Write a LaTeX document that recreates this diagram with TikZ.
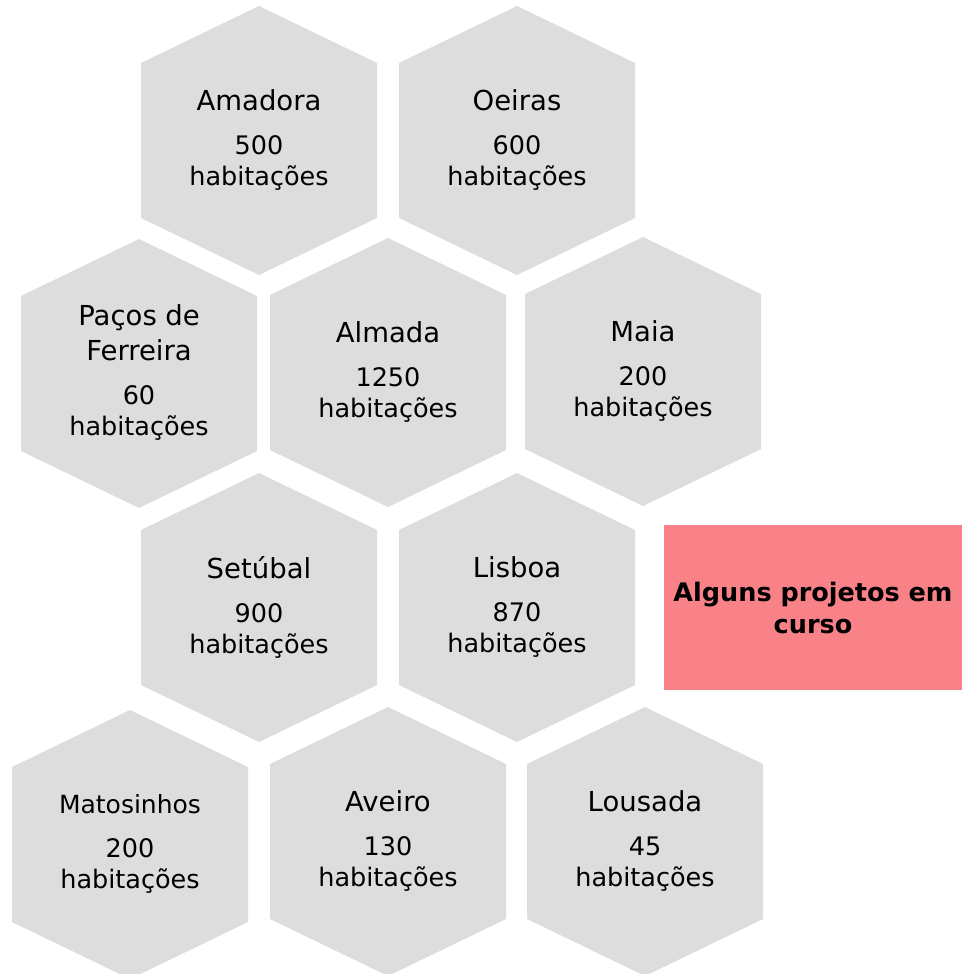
\documentclass[tikz,border=0pt]{standalone}
\usepackage{fontspec}
\setmainfont{DejaVu Sans}
\definecolor{hexgray}{RGB}{221,221,221}
\definecolor{notepink}{RGB}{249,129,136}
\newcommand{\townfont}{\fontsize{27.5}{35}\selectfont}

\begin{document}
\begin{tikzpicture}
  [x=1pt,y=-1pt,
   hexfill/.style={fill=hexgray},
   hexlabel/.style={align=center,text width=230pt,inner sep=0pt,
     font=\fontsize{25.5}{31}\selectfont},
   notebox/.style={fill=notepink,minimum width=298pt,minimum height=165pt,
     inner sep=0pt,align=center,font=\fontsize{25.5}{32}\selectfont\bfseries}]
  \useasboundingbox (0,0) rectangle (962,974);

  \foreach \id/\x/\y/\town/\num in {
      amadora/259/140/Amadora/500, oeiras/517/140/Oeiras/600,
      pacos/139/373/{Paços de\\Ferreira}/60, almada/388/372/Almada/1250,
      maia/643/371/Maia/200,
      setubal/259/607/Setúbal/900, lisboa/517/607/Lisboa/870,
      matosinhos/130/844/{\fontsize{25}{31}\selectfont Matosinhos}/200,
      aveiro/388/841/Aveiro/130, lousada/645/841/Lousada/45}
  {
    \fill[hexfill] (\x,\y) ++(0,-134) -- ++(118,57) -- ++(0,155)
      -- ++(-118,57) -- ++(-118,-57) -- ++(0,-155) -- cycle;
    \node[hexlabel] (\id) at (\x,\y)
      {{\townfont\town\par}\vspace{13pt}\num\\habitações};
  }

  \node[notebox] (note) at (813,607.5) {Alguns projetos em\\curso};

\end{tikzpicture}
\end{document}
